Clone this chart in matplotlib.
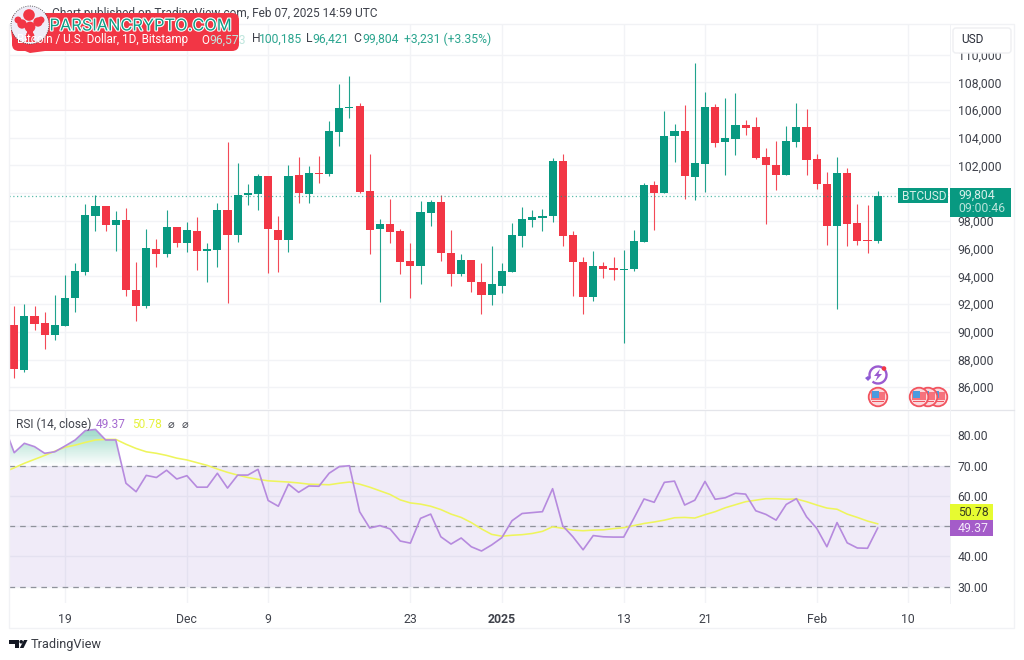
import numpy as np
import pandas as pd
import matplotlib
matplotlib.use("Agg")
import matplotlib.pyplot as plt
import matplotlib.dates as mdates
from matplotlib.patches import Rectangle, Circle, FancyBboxPatch, PathPatch, Polygon, Arc
from matplotlib.path import Path
import matplotlib.patheffects as pe

plt.rcParams['font.family'] = ['Roboto', 'DejaVu Sans']

opens = [90520,87226,91122,90665,89775,90424,92420,94320,98385,99058,97735,98048,92998,91891,95956,95643,97543,96437,97254,95835,
         95884,98770,96966,99876,99924,101223,97327,96605,101295,99972,101463,101362,104436,106124,106268,100157,97439,97800,97271,95106,
         94746,98594,99387,95708,94144,95179,93615,92629,93279,94337,96910,98089,98233,98353,102345,96958,95058,92509,94722,94577,
         94481,94529,96501,100566,99989,104125,104486,101167,102129,106193,103668,103909,104895,104750,102586,102057,101287,103716,104750,102466,
         100686,97632,101480,97872,96621,96573]
highs = [91843,91987,91843,91410,92637,94080,94970,99202,99852,99058,98721,98962,95042,97399,96677,98770,97543,97904,98264,96389,
         99299,103676,102161,100645,101415,101223,98337,102016,102593,101944,102666,105230,107856,108455,106528,102802,98137,99580,97415,96429,
         99435,99507,99868,97343,95587,95179,94938,96189,94986,97824,99003,98786,98834,102538,102802,97271,95371,95828,95010,95371,
         95900,97343,100758,100878,105929,104967,106338,109416,107324,106410,106867,107203,105304,105520,103259,103788,104847,106482,106073,102802,
         101504,102586,101840,99195,99171,100185]
lows = [86696,87081,90112,88741,89390,90424,91410,94080,97254,97254,95811,92589,90761,91747,94681,95403,96124,95739,94440,93575,
        94681,92084,96461,99154,98770,94248,94296,95739,99299,99299,100717,101240,103404,105424,100013,95587,92172,96429,94193,92437,
        93471,97632,95130,93302,94048,92894,91307,91908,92822,94289,96117,97560,97295,97945,96189,92582,91258,92245,93880,93735,
        89214,94409,96501,97343,99989,102273,99580,99508,100109,103356,101287,102778,104173,102490,97800,100229,101287,103356,101335,100301,
        96237,91619,96189,96237,95708,96421]
closes = [87298,91122,90569,89799,90520,92420,94392,98457,99058,97735,98048,92998,91891,96028,95619,97543,96437,97327,95835,95956,
          98770,97014,99900,100020,101223,97423,96605,101223,100044,101439,101415,104508,106146,106170,100107,97343,97800,97175,95058,94746,
          98642,99387,95659,94144,95179,93567,92629,93423,94385,96958,98137,98257,98353,102345,96910,95058,92509,94722,94553,94481,
          94529,96550,100566,99989,104149,104486,101239,102201,106193,103596,103981,104895,104702,102514,102057,101287,103788,104750,102418,100638,
          97632,101480,97752,96573,96573,99804]

rsi = [83.3,74.3,77.4,76.3,74.1,74.6,76.5,78.5,81.6,82.0,78.5,78.5,64.2,61.4,66.8,66.1,68.5,65.6,66.7,62.9,62.9,67.5,62.6,66.9,66.9,68.8,
       58.5,56.6,63.9,61.2,63.3,63.2,67.5,69.7,70.0,54.8,49.4,50.2,49.1,45.1,44.4,52.6,54.0,46.5,44.1,46.1,43.2,41.8,43.8,46.2,51.8,54.2,
       54.5,54.8,62.4,50.1,46.5,42.2,46.9,46.5,46.4,46.4,52.6,59.0,57.9,64.5,64.9,57.0,58.6,64.8,58.9,59.4,60.9,60.6,55.1,53.9,52.0,57.2,
       59.1,53.1,49.3,43.2,51.2,44.5,42.8,42.7,49.37]
rsi_ma = [67.9,69.3,70.8,72.1,73.4,74.8,76.1,76.8,77.7,78.5,78.7,78.7,77.1,75.7,74.6,74.1,73.4,72.5,71.9,71.0,70.1,68.9,67.8,66.9,66.1,65.5,
          65.0,64.8,64.6,64.3,63.9,63.8,63.7,64.2,64.6,63.9,62.9,61.7,60.5,58.7,57.7,57.3,56.6,55.5,54.0,52.9,51.2,49.1,47.3,46.7,47.0,47.2,
          47.6,48.3,49.8,49.3,48.7,48.5,48.7,48.8,49.2,49.5,50.2,50.9,51.4,52.0,52.8,52.9,52.7,53.8,54.8,56.1,57.1,58.1,58.6,59.1,59.1,58.9,
          59.0,58.1,57.0,56.0,55.6,54.0,52.9,51.7,50.78]

dates = pd.date_range("2024-11-14", periods=len(opens), freq="D")
rsi_dates = pd.date_range("2024-11-13", periods=len(rsi), freq="D")
price_ticks = list(range(86000, 112000, 2000))
rsi_ticks = [30, 40, 50, 60, 70, 80]
date_ticks = ["2024-11-19","2024-12-01","2024-12-09","2024-12-23","2025-01-01","2025-01-13","2025-01-21","2025-02-01","2025-02-10"]
date_labels = ["19","Dec","9","23","2025","13","21","Feb","10"]

GREEN, RED = '#089981', '#F23645'
GRID = '#f2f3f6'
TXT = '#3f424b'
W, H = 1024, 660

fig = plt.figure(figsize=(10.24, 6.6), dpi=100, facecolor='white')
def axpx(l, t, r, b, **kw):
    return fig.add_axes([l/W, 1-b/H, (r-l)/W, (b-t)/H], **kw)

ax = axpx(9, 24, 950, 409)
ar = axpx(9, 410, 950, 603)

xn = mdates.date2num(dates)
xlim = (xn[0]-0.512, xn[0]+92.12)

# --- price pane
ax.vlines(xn, lows, highs, color=[GREEN if c >= o else RED for o, c in zip(opens, closes)], lw=0.8, alpha=0.9, zorder=3)
bott = np.minimum(opens, closes)
hgt = np.maximum(np.abs(np.array(closes)-np.array(opens)), 70)
ax.bar(xn, hgt, bottom=bott, width=0.8,
       color=[GREEN if c >= o else RED for o, c in zip(opens, closes)], lw=0, zorder=4)
ax.axhline(closes[-1], color=GREEN, lw=0.9, ls=(0, (1, 2)), alpha=0.65, zorder=5)
ax.set_xlim(*xlim)
ax.set_ylim(108000-(409-82.3)*72.15, 108000+(82.3-24)*72.15)
ax.yaxis.tick_right()
ax.set_yticks(price_ticks)
ax.set_yticklabels([f"{v:,}" for v in price_ticks])
ax.set_xticks(mdates.date2num(pd.to_datetime(date_ticks)))
ax.tick_params(axis='x', length=0, labelbottom=False)
ax.tick_params(axis='y', length=0, pad=5.5, labelsize=8.8, labelcolor=TXT)
ax.grid(True, color=GRID, lw=1, zorder=0)
ax.set_axisbelow(True)
for s in ax.spines.values():
    s.set_visible(False)

# --- RSI pane
rx = mdates.date2num(rsi_dates)
ar.axhspan(30, 70, color='#7e57c2', alpha=0.115, lw=0, zorder=1)
for lv in (70, 50, 30):
    ar.axhline(lv, color='#8f929b', lw=0.9, ls=(0, (4.5, 4)), zorder=2)
poly = ar.fill_between(rx, np.full(len(rsi), 70.0), rsi, where=np.array(rsi) > 70, interpolate=True, color='none', lw=0)
clip = PathPatch(Path.make_compound_path(*poly.get_paths()), transform=ar.transData, fc='none', ec='none')
ar.add_patch(clip)
grad = np.zeros((64, 2, 4))
grad[..., 0], grad[..., 1], grad[..., 2] = 0.25, 0.72, 0.58
grad[..., 3] = np.linspace(0.55, 0.0, 64)[:, None]
im = ar.imshow(grad, extent=[rx[0], rx[-1], 70, 83], aspect='auto', origin='upper', zorder=2.5, interpolation='bilinear')
im.set_clip_path(clip)
ar.plot(rx, rsi, color='#b68ade', lw=1.2, zorder=4)
ar.plot(rx, rsi_ma, color='#eef55c', lw=1.15, zorder=3)
ar.set_xlim(*xlim)
ar.set_ylim(70-(603-465.7)/3.025, 70+(465.7-410)/3.025)
ar.yaxis.tick_right()
ar.set_yticks(rsi_ticks)
ar.set_yticklabels([f"{v:.2f}" for v in rsi_ticks])
ar.set_xticks(mdates.date2num(pd.to_datetime(date_ticks)))
ar.set_xticklabels(date_labels)
ar.tick_params(axis='both', length=0, labelsize=8.8, labelcolor=TXT)
ar.tick_params(axis='y', pad=5.5)
ar.tick_params(axis='x', pad=7)
ar.get_xticklabels()[4].set_fontweight('bold')
ar.grid(True, color=GRID, lw=1, zorder=0)
ar.set_axisbelow(True)
for s in ar.spines.values():
    s.set_visible(False)

# --- overlay in pixel coordinates
ov = fig.add_axes([0, 0, 1, 1], zorder=10)
ov.set_xlim(0, W); ov.set_ylim(H, 0); ov.axis('off'); ov.patch.set_alpha(0)
FR = '#f1f2f5'
ov.add_patch(Rectangle((9, 24), 1005, 604, fc='none', ec=FR, lw=1))
ov.plot([9, 1014], [409.5, 409.5], color='#e4e5ea', lw=0.9)
ov.plot([950, 950], [24, 603], color=FR, lw=0.7)

# header
ov.text(377, 14, "Chart published on TradingView.com, Feb 07, 2025 14:59 UTC", ha='right', va='center', fontsize=8.6, color=TXT)
TEAL = '#2ba58f'
for x, s, c in [(252,"H",TXT),(259,"100,185",TEAL),(306,"L",TXT),(312,"96,421",TEAL),(353,"C",TXT),(362,"99,804",TEAL),(404,"+3,231 (+3.35%)",TEAL)]:
    ov.text(x, 39, s, ha='left', va='center', fontsize=8.7, color=c)

# watermark banner
ov.add_patch(FancyBboxPatch((16, 17), 219, 30, boxstyle="round,pad=4,rounding_size=7", fc=RED, ec='none', zorder=3))
ov.add_patch(Polygon([(11,30),(13,46),(30,53),(60,49),(120,50),(120,40),(20,30)], fc=RED, ec='none', zorder=3))
ov.add_patch(Circle((30, 25), 19, fc='#efedf8', ec='#333333', lw=0.6, ls=':', zorder=4))
ov.scatter([29,22,38,30,18,41,30], [15,24,22,27,20,20,36], s=[70,45,45,60,25,25,40], color=RED, lw=0, zorder=5)
ov.add_patch(Polygon([(27,24),(33,24),(33,40),(37,42),(24,42),(27,40)], fc=RED, ec='none', zorder=5))
ov.text(140.5, 26, "PARSIANCRYPTO.COM", ha='center', va='center', fontsize=11.8, color='#0f9c85', zorder=6,
        family=['Inter', 'DejaVu Sans'], path_effects=[pe.withStroke(linewidth=1.6, foreground='white')])
ov.text(17, 40, "Bitcoin / U.S. Dollar, 1D, Bitstamp", ha='left', va='center', fontsize=8.4, color='white', zorder=6)
ov.text(201, 40, "O", ha='left', va='center', fontsize=8.4, color='white', zorder=6)
ov.text(209, 40, "96,573", ha='left', va='center', fontsize=8.7, color='#bfe6dd', zorder=6)

# USD box
ov.add_patch(FancyBboxPatch((955, 30), 54, 21, boxstyle="round,pad=2,rounding_size=3", fc='white', ec='#eeeff2', lw=1, zorder=3))
ov.text(961, 39.5, "USD", ha='left', va='center', fontsize=8.6, color='#2a2e39', zorder=4)

# price labels
ov.add_patch(Rectangle((898, 188), 50, 15, fc=GREEN, ec='none', zorder=3))
ov.text(902, 196, "BTCUSD", ha='left', va='center', fontsize=8.6, color='#d5efe9', zorder=4)
ov.add_patch(Rectangle((950, 188), 60.5, 28.5, fc=GREEN, ec='none', zorder=3))
ov.text(958, 195, "99,804", ha='left', va='center', fontsize=8.8, color='#d5efe9', zorder=4)
ov.text(958, 208, "09:00:46", ha='left', va='center', fontsize=8.8, color='#b8e3da', zorder=4)

# RSI legend and labels
ov.text(16, 424, "RSI (14, close)", ha='left', va='center', fontsize=8.6, color=TXT)
ov.text(96, 424, "49.37", ha='left', va='center', fontsize=8.6, color='#a56ad0')
ov.text(132, 424, "50.78", ha='left', va='center', fontsize=8.6, color='#e6f23e')
ov.text(171, 424.5, "⌀", ha='center', va='center', fontsize=8, color=TXT, family=['DejaVu Sans'])
ov.text(185, 424.5, "⌀", ha='center', va='center', fontsize=8, color=TXT, family=['DejaVu Sans'])
ov.add_patch(Rectangle((950, 504), 43, 16, fc='#e6fb31', ec='none', zorder=3))
ov.text(958, 512, "50.78", ha='left', va='center', fontsize=8.8, color='#3a3d20', zorder=4)
ov.add_patch(Rectangle((950, 520), 43, 15.5, fc='#a45cc9', ec='none', zorder=3))
ov.text(958, 528, "49.37", ha='left', va='center', fontsize=8.8, color='#f3e8fa', zorder=4)

# event icons
def flag(cx, cy, z=5):
    ov.add_patch(Circle((cx, cy), 9.3, fc='#fbd9dc', ec='#f2545f', lw=1.3, zorder=z))
    ov.add_patch(Rectangle((cx-7, cy-5), 14, 8, fc='#f6727c', ec='none', zorder=z+0.1))
    ov.add_patch(Rectangle((cx-6.5, cy-6.5), 7.5, 7, fc='#4a9be0', ec='none', zorder=z+0.2))
    ov.add_patch(Rectangle((cx-6, cy+3.5), 12, 1.2, fc='#f2545f', ec='none', zorder=z+0.2))
for i, cx in enumerate([938, 928, 919]):
    flag(cx, 397, 5+i)
flag(878, 397)
ov.add_patch(Arc((878, 375), 17, 17, theta1=-200, theta2=130, ec='#9b5bd0', lw=1.7, zorder=5))
ov.add_patch(Polygon([(880,369),(874,376),(877.5,376),(875.5,381),(882,374),(878.5,374)], fc='#9b5bd0', ec='none', zorder=5))
ov.add_patch(Polygon([(865,378),(868,376),(871,378),(868,381)], fc='#8a5bd6', ec='none', zorder=5))
ov.add_patch(Circle((884, 368.5), 2.3, fc=RED, ec='none', zorder=6))

# TradingView footer
ov.add_patch(Polygon([(9,640),(19,640),(19,648),(14.5,648),(14.5,643.5),(9,643.5)], fc='#131722', ec='none'))
ov.add_patch(Circle((21.2, 641.8), 1.8, fc='#131722', ec='none'))
ov.add_patch(Polygon([(24,640),(27.5,640),(23.5,648),(19.8,648)], fc='#131722', ec='none'))
ov.text(31, 644.5, "TradingView", ha='left', va='center', fontsize=9.2, color='#3a3d45')

fig.savefig("out.png", dpi=100, facecolor='white')
